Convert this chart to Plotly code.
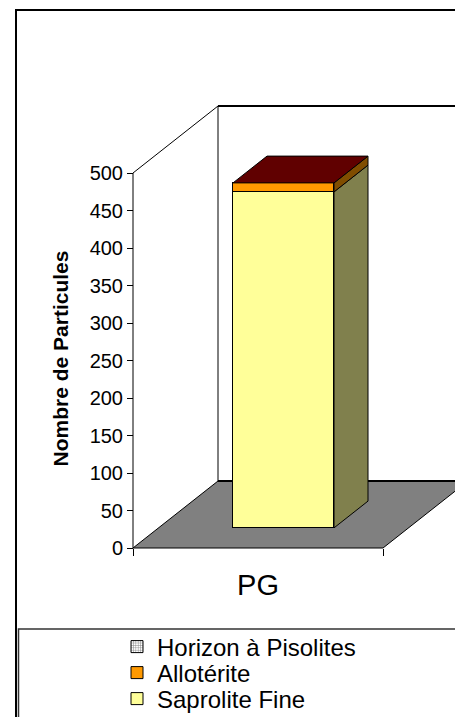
import plotly.graph_objects as go

# ---------------- data ----------------
categories = ["PG"]
saprolite_fine = [448]
alloterite = [12]
horizon_pisolites = [0]
series_names = ["Saprolite Fine", "Allotérite", "Horizon à Pisolites"]
y_tick_values = [0, 50, 100, 150, 200, 250, 300, 350, 400, 450, 500]
y_title = "Nombre de Particules"

# ---------------- styles / geometry ----------------
W, H = 455, 717
FONT = "Liberation Sans, Arial, sans-serif"
AX_X = 133          # pixel x of front-left corner of the box
AX_Y0 = 548         # pixel y of value 0 on the front plane
PX_PER_UNIT = 0.75  # pixels per value unit
CAT_PX = 250        # pixels per category on the front plane
DEPTH_PX = (85, 67) # oblique depth vector (right, up)
BAR_FRONT = 0.30    # depth fraction of bar front face
BAR_DEPTH = 0.40    # depth fraction occupied by the bar
BAR_WIDTH = 0.404   # in category units

front_colors = ["#FFFF99", "#FF9900", "#FFFFFF"]
side_colors = ["#80804D", "#804D00", "#808080"]
top_color = "#600000"

x_lo = -0.5 - AX_X / CAT_PX
x_hi = -0.5 + (W - AX_X) / CAT_PX
y_lo = -(H - AX_Y0) / PX_PER_UNIT
y_hi = AX_Y0 / PX_PER_UNIT
DXU = DEPTH_PX[0] / CAT_PX
DYU = DEPTH_PX[1] / PX_PER_UNIT
ymax = max(y_tick_values)
n = len(categories)

fig = go.Figure()

# invisible anchor trace so the front category axis knows its categories
fig.add_trace(go.Scatter(x=categories, y=[0] * n, mode="markers",
                         marker=dict(opacity=0), showlegend=False,
                         hoverinfo="skip", xaxis="x", yaxis="y"))

series = [saprolite_fine, alloterite, horizon_pisolites]
legend_ids = ["legend3", "legend2", "legend"]
for k, (name, vals) in enumerate(zip(series_names, series)):
    marker = dict(color=front_colors[k], line=dict(color="black", width=1))
    if k == 2:
        marker["pattern"] = dict(shape="+", fgcolor="black", bgcolor="white",
                                 size=3, solidity=0.35)
    fig.add_trace(go.Bar(x=categories, y=vals, name=name, width=BAR_WIDTH,
                         marker=marker, xaxis="x2", yaxis="y2",
                         legend=legend_ids[k]))

shapes = []
# back wall
shapes.append(dict(type="rect", xref="x", yref="y", layer="below",
                   x0=-0.5 + DXU, x1=n - 0.5 + DXU, y0=DYU, y1=ymax + DYU,
                   fillcolor="white", line=dict(width=0)))
# floor
shapes.append(dict(type="path", xref="x", yref="y", layer="below",
                   path=f"M{-0.5},0 L{n-0.5},0 L{n-0.5+DXU},{DYU} L{-0.5+DXU},{DYU} Z",
                   fillcolor="#808080", line=dict(color="black", width=1)))
# back wall edges
shapes.append(dict(type="line", xref="x", yref="y", layer="below",
                   x0=-0.5 + DXU, x1=n - 0.5 + DXU, y0=DYU, y1=DYU,
                   line=dict(color="black", width=2)))
shapes.append(dict(type="line", xref="x", yref="y", layer="below",
                   x0=-0.5 + DXU, x1=n - 0.5 + DXU, y0=ymax + DYU, y1=ymax + DYU,
                   line=dict(color="black", width=2)))
shapes.append(dict(type="line", xref="x", yref="y", layer="below",
                   x0=-0.5 + DXU, x1=-0.5 + DXU, y0=DYU, y1=ymax + DYU,
                   line=dict(color="black", width=1)))
# left wall top edge and front value axis line
shapes.append(dict(type="line", xref="x", yref="y", layer="below",
                   x0=-0.5, x1=-0.5 + DXU, y0=ymax, y1=ymax + DYU,
                   line=dict(color="black", width=1)))
shapes.append(dict(type="line", xref="x", yref="y", layer="below",
                   x0=-0.5, x1=-0.5, y0=0, y1=ymax,
                   line=dict(color="black", width=1)))

# bar side and top faces
ddx = BAR_DEPTH * DXU
ddy = BAR_DEPTH * DYU
for i in range(n):
    base = 0
    for k, vals in enumerate(series):
        v = vals[i]
        if v > 0:
            xr = i + BAR_WIDTH / 2
            shapes.append(dict(type="path", xref="x2", yref="y2", layer="above",
                               path=f"M{xr},{base} L{xr+ddx},{base+ddy} L{xr+ddx},{base+v+ddy} L{xr},{base+v} Z",
                               fillcolor=side_colors[k], line=dict(color="black", width=1)))
        base += v
    xl = i - BAR_WIDTH / 2
    xr = i + BAR_WIDTH / 2
    shapes.append(dict(type="path", xref="x2", yref="y2", layer="above",
                       path=f"M{xl},{base} L{xr},{base} L{xr+ddx},{base+ddy} L{xl+ddx},{base+ddy} Z",
                       fillcolor=top_color, line=dict(color="black", width=1)))

# outer chart border and legend box
shapes.append(dict(type="rect", xref="paper", yref="paper",
                   x0=16 / W, x1=1.2, y0=-0.2, y1=1 - 10 / H,
                   line=dict(color="black", width=2), fillcolor="rgba(0,0,0,0)"))
shapes.append(dict(type="rect", xref="paper", yref="paper",
                   x0=18.5 / W, x1=1.2, y0=-0.2, y1=1 - 629 / H,
                   line=dict(color="#333333", width=1.5), fillcolor="rgba(0,0,0,0)"))

legend_rows = {"legend": 647, "legend2": 673, "legend3": 699}
legend_layout = {}
for lid, row in legend_rows.items():
    legend_layout[lid] = dict(x=117 / W, xanchor="left", y=1 - row / H, yanchor="middle",
                              bgcolor="rgba(0,0,0,0)", borderwidth=0,
                              font=dict(family=FONT, size=24, color="black"))

fig.update_layout(
    width=W, height=H,
    margin=dict(l=0, r=0, t=0, b=0, autoexpand=False),
    paper_bgcolor="white", plot_bgcolor="white",
    barmode="stack", bargap=0,
    font=dict(family=FONT, color="black"),
    showlegend=True,
    shapes=shapes,
    xaxis=dict(type="category", categoryorder="array", categoryarray=categories,
               range=[x_lo, x_hi], domain=[0, 1], anchor="free",
               position=(H - AX_Y0) / H, showgrid=False, zeroline=False,
               showline=False, ticks="outside", tickson="boundaries",
               ticklen=7, tickcolor="black", tickwidth=1,
               tickfont=dict(family=FONT, size=29, color="black"),
               ticklabelstandoff=17, automargin=False),
    yaxis=dict(range=[y_lo, y_hi], domain=[0, 1], anchor="free",
               position=AX_X / W, tickmode="array", tickvals=y_tick_values,
               showgrid=False, zeroline=False, showline=False,
               ticks="outside", ticklen=6, tickcolor="black", tickwidth=1,
               tickfont=dict(family=FONT, size=20, color="black"),
               automargin=False,
               title=dict(text=y_title, standoff=14,
                          font=dict(family=FONT, size=21, color="black", weight="bold"))),
    xaxis2=dict(type="category", categoryorder="array", categoryarray=categories,
                range=[x_lo - BAR_FRONT * DXU, x_hi - BAR_FRONT * DXU],
                overlaying="x", anchor="y2", visible=False),
    yaxis2=dict(range=[y_lo - BAR_FRONT * DYU, y_hi - BAR_FRONT * DYU],
                overlaying="y", anchor="x2", visible=False),
    **legend_layout,
)

fig.write_html("out.html", config={"displayModeBar": False},
               post_script="document.body.style.margin='0';document.body.style.overflow='hidden';")
